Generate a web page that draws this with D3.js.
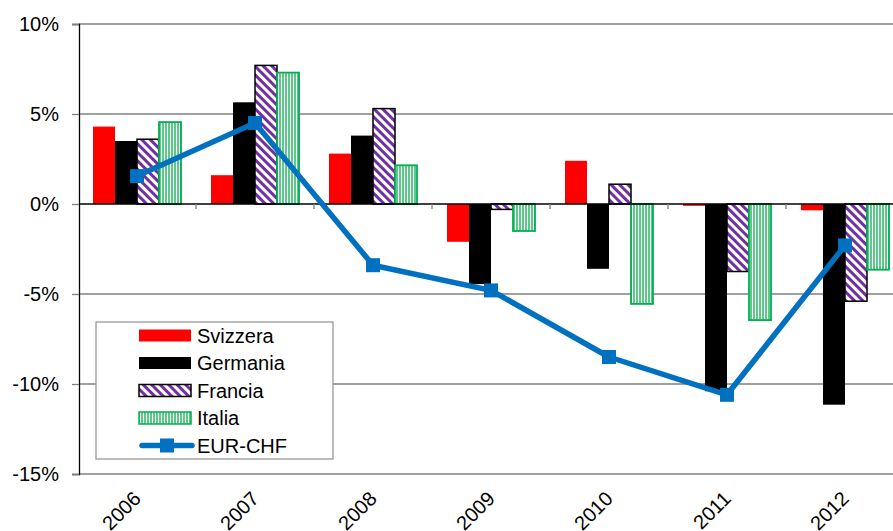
<!DOCTYPE html>
<html>
<head>
<meta charset="utf-8">
<script src="https://cdn.jsdelivr.net/npm/d3@7"></script>
<style>
  body { margin: 0; background: #fff; }
  svg { display: block; font-family: Arial, "Liberation Sans", sans-serif; }
</style>
</head>
<body>
<div id="chart"></div>
<script>
(function () {
  'use strict';

  // data (percent)
  var years = ["2006", "2007", "2008", "2009", "2010", "2011", "2012"];
  var seriesNames = ["Svizzera", "Germania", "Francia", "Italia"];
  var svizzera = [4.3, 1.6, 2.8, -2.1, 2.4, -0.1, -0.35];
  var germania = [3.5, 5.65, 3.8, -4.45, -3.6, -10.4, -11.15];
  var francia  = [3.6, 7.7, 5.3, -0.3, 1.1, -3.75, -5.4];
  var italia   = [4.55, 7.3, 2.15, -1.5, -5.55, -6.45, -3.65];
  var eurChf   = [1.55, 4.5, -3.4, -4.8, -8.5, -10.6, -2.3];
  var yTicks = [10, 5, 0, -5, -10, -15];

  var seriesValues = [svizzera, germania, francia, italia];

  var width = 893, height = 531;
  var left = 79, top = 24, plotRight = 904, plotBottom = 474;

  var svg = d3.select("#chart").append("svg")
      .attr("width", width)
      .attr("height", height);

  // patterns
  var defs = svg.append("defs");
  var pFr = defs.append("pattern")
      .attr("id", "patFrancia")
      .attr("patternUnits", "userSpaceOnUse")
      .attr("width", 6).attr("height", 6)
      .attr("patternTransform", "rotate(-45)");
  pFr.append("rect").attr("width", 6).attr("height", 6).attr("fill", "#fff");
  pFr.append("rect").attr("width", 3).attr("height", 6).attr("fill", "#7030A0");

  var pIt = defs.append("pattern")
      .attr("id", "patItalia")
      .attr("patternUnits", "userSpaceOnUse")
      .attr("width", 3).attr("height", 3);
  pIt.append("rect").attr("width", 3).attr("height", 3).attr("fill", "#fff");
  pIt.append("rect").attr("width", 2).attr("height", 3).attr("fill", "#5cc98a");

  var fills = ["#FF0000", "#000000", "url(#patFrancia)", "url(#patItalia)"];
  var strokes = ["none", "none", "#000000", "#00B050"];

  var x = d3.scaleBand()
      .domain(years)
      .range([78, plotRight])
      .paddingInner(30 / 118)
      .paddingOuter(15 / 118);

  var xSub = d3.scaleBand()
      .domain(seriesNames)
      .range([0, x.bandwidth()]);

  var y = d3.scaleLinear()
      .domain([-15, 10])
      .range([plotBottom, top]);

  // gridlines
  svg.append("g")
    .selectAll("line")
    .data(yTicks.filter(function(d) { return d !== 0; }))
    .enter().append("line")
      .attr("x1", left).attr("x2", plotRight)
      .attr("y1", function(d) { return y(d); })
      .attr("y2", function(d) { return y(d); })
      .attr("stroke", "#808080")
      .attr("stroke-width", 1.3);

  // y axis
  var yAxis = d3.axisLeft(y)
      .tickValues(yTicks)
      .tickSize(7)
      .tickPadding(13)
      .tickFormat(function(d) { return d + "%"; });

  var gy = svg.append("g")
      .attr("transform", "translate(" + left + ",0)")
      .call(yAxis);
  gy.select(".domain").attr("stroke", "#000").attr("stroke-width", 1.3);
  gy.selectAll(".tick line").attr("stroke", "#808080").attr("stroke-width", 1.3);
  gy.selectAll(".tick text")
      .attr("font-size", 20)
      .attr("font-family", "Arial, 'Liberation Sans', sans-serif")
      .attr("fill", "#000");

  // bars
  seriesValues.forEach(function(vals, si) {
    svg.append("g")
      .selectAll("rect")
      .data(vals)
      .enter().append("rect")
        .attr("x", function(d, i) { return x(years[i]) + xSub(seriesNames[si]); })
        .attr("y", function(d) { return y(Math.max(0, d)); })
        .attr("width", xSub.bandwidth())
        .attr("height", function(d) { return Math.abs(y(d) - y(0)); })
        .attr("fill", fills[si])
        .attr("stroke", strokes[si])
        .attr("stroke-width", si === 3 ? 1.8 : 1.5);
  });

  // category axis at zero
  var xAxis = d3.axisBottom(x).tickSize(0).tickFormat("");
  var gx = svg.append("g")
      .attr("transform", "translate(0," + y(0) + ")")
      .call(xAxis);
  gx.select(".domain").remove();
  gx.append("line")
      .attr("x1", left).attr("x2", plotRight)
      .attr("stroke", "#000").attr("stroke-width", 1.3);
  gx.selectAll(".bound")
    .data(years.slice(1))
    .enter().append("line")
      .attr("class", "bound")
      .attr("x1", function(d) { return x(d) - x.step() * x.paddingInner() / 2; })
      .attr("x2", function(d) { return x(d) - x.step() * x.paddingInner() / 2; })
      .attr("y1", 0).attr("y2", 5)
      .attr("stroke", "#808080").attr("stroke-width", 1.3);

  // year labels at the bottom
  svg.append("g")
    .selectAll("text")
    .data(years)
    .enter().append("text")
      .attr("transform", function(d) {
        return "translate(" + (x(d) + x.bandwidth() / 2 + 5) + "," + 500 + ") rotate(-45)";
      })
      .attr("text-anchor", "end")
      .attr("font-size", 20)
      .attr("fill", "#000")
      .text(function(d) { return d; });

  // EUR-CHF line
  var cx = function(d, i) { return x(years[i]) + x.bandwidth() / 2; };
  var line = d3.line()
      .x(cx)
      .y(function(d) { return y(d); });

  svg.append("path")
      .datum(eurChf)
      .attr("d", line)
      .attr("fill", "none")
      .attr("stroke", "#0070C0")
      .attr("stroke-width", 5.5)
      .attr("stroke-linejoin", "round");

  svg.append("g")
    .selectAll("rect")
    .data(eurChf)
    .enter().append("rect")
      .attr("x", function(d, i) { return cx(d, i) - 7; })
      .attr("y", function(d) { return y(d) - 7; })
      .attr("width", 14).attr("height", 14)
      .attr("fill", "#0070C0");

  // legend
  var legend = svg.append("g").attr("transform", "translate(96,322)");
  legend.append("rect")
      .attr("width", 237).attr("height", 137)
      .attr("fill", "#fff")
      .attr("stroke", "#999").attr("stroke-width", 1.3);

  var legendNames = seriesNames.concat(["EUR-CHF"]);
  var rows = legend.selectAll(".row")
    .data(legendNames)
    .enter().append("g")
      .attr("class", "row")
      .attr("transform", function(d, i) { return "translate(0," + (13.5 + i * 27.5) + ")"; });

  rows.each(function(d, i) {
    var g = d3.select(this);
    if (i < 4) {
      g.append("rect")
        .attr("x", 43).attr("y", -6)
        .attr("width", 52).attr("height", 12)
        .attr("fill", fills[i])
        .attr("stroke", strokes[i])
        .attr("stroke-width", 1.5);
    } else {
      g.append("line")
        .attr("x1", 46).attr("x2", 96)
        .attr("stroke", "#0070C0").attr("stroke-width", 5.5)
        .attr("stroke-linecap", "round");
      g.append("rect")
        .attr("x", 64).attr("y", -7)
        .attr("width", 14).attr("height", 14)
        .attr("fill", "#0070C0");
    }
    g.append("text")
      .attr("x", 101)
      .attr("dy", "0.36em")
      .attr("font-size", 20)
      .attr("fill", "#000")
      .text(d);
  });

}());
</script>
</body>
</html>
